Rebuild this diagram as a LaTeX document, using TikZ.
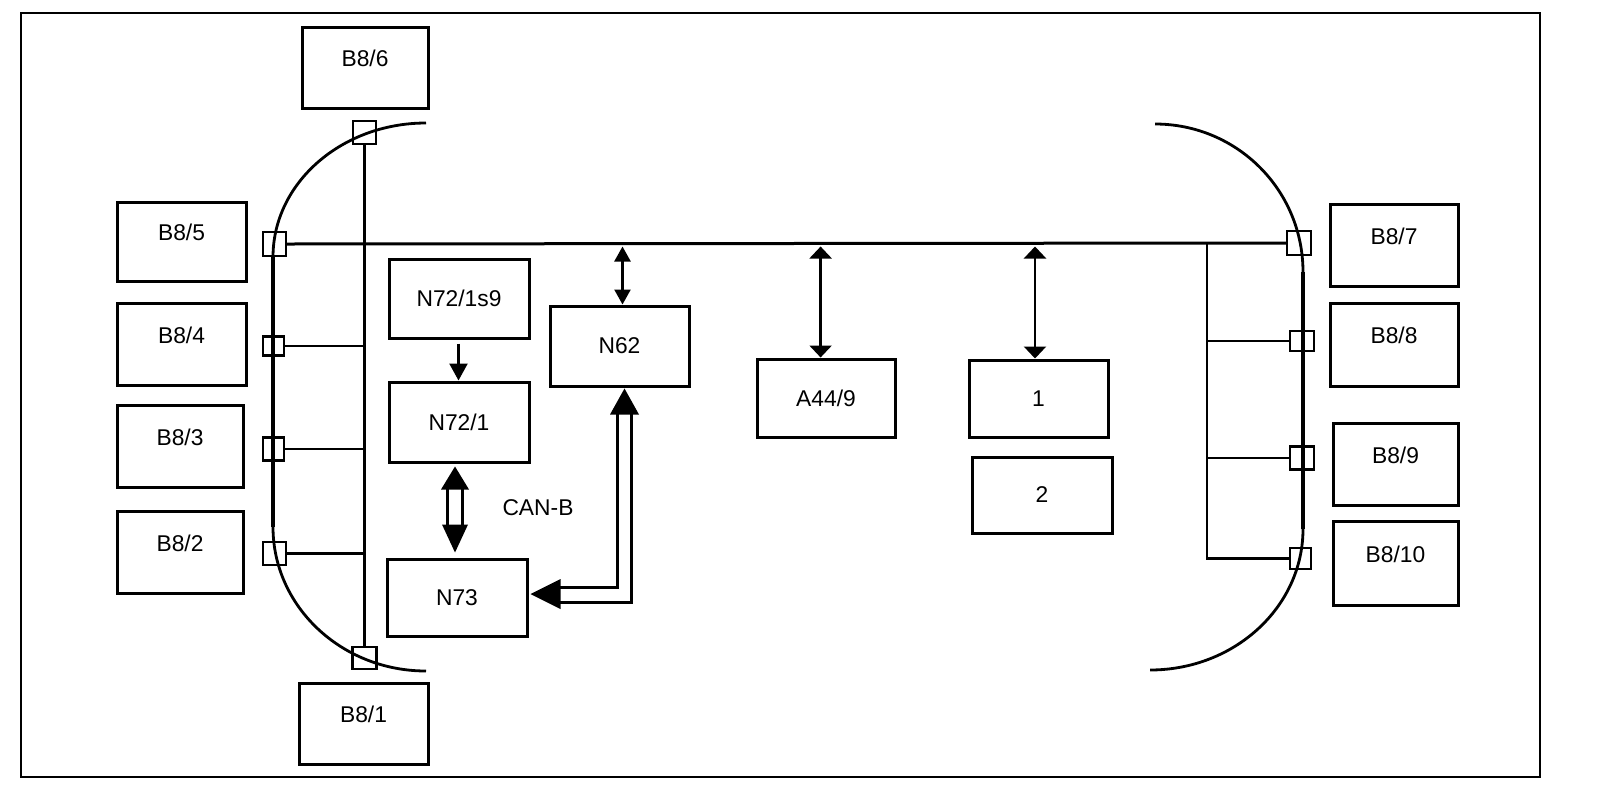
\documentclass[tikz,border=0pt]{standalone}
\usepackage{fontspec}
\setmainfont{Liberation Sans}
\usetikzlibrary{arrows.meta,calc}
\begin{document}
\begin{tikzpicture}[x=0.5pt,y=-0.5pt,
  txt/.style={font=\fontsize{11.4}{13}\selectfont},
  box/.style={draw, line width=1.5pt, inner sep=0pt, txt},
  lab/.style={txt, inner sep=0pt, yshift=4.5pt},
  sq/.style={draw, line width=1.1pt, inner sep=0pt},
  thinln/.style={line width=1.1pt},
  busln/.style={line width=1.5pt},
  outline/.style={line width=1.4pt},
  outlinev/.style={line width=1.7pt},
  bi/.style={line width=1.2pt, {Triangle[width=11pt,length=6pt]}-{Triangle[width=11pt,length=6pt]}},
  bin/.style={line width=1.2pt, {Triangle[width=8pt,length=7.5pt]}-{Triangle[width=8pt,length=7.5pt]}},
  dbl/.style={double, double distance=5.6pt, line width=1.5pt}
]
\useasboundingbox (0,0) rectangle (1600,788);
\draw[line width=1pt] (21,13) rectangle (1540,777);

% car outline
\draw[outline] (426,123) .. controls (341.5,123) and (273,183) .. (273,257);
\draw[outlinev] (273,257) -- (273,527);
\draw[outline] (273,527) .. controls (273,606.5) and (341.5,671) .. (426,671);
\draw[outline] (1155,124) .. controls (1237,124) and (1303,190) .. (1303,272);
\draw[outlinev] (1303,272) -- (1303,529);
\draw[outline] (1303,529) .. controls (1303,607) and (1234.5,670) .. (1150,670);

% sensor boxes
\node[box, minimum width=63pt, minimum height=40.5pt, label={[lab]center:B8/6}] (b86) at (365,67.5) {};
\node[box, minimum width=64.5pt, minimum height=39.5pt, label={[lab]center:B8/5}] (b85) at (181.5,241.5) {};
\node[box, minimum width=64.5pt, minimum height=41pt, label={[lab]center:B8/4}] (b84) at (181.5,344) {};
\node[box, minimum width=63pt, minimum height=41pt, label={[lab]center:B8/3}] (b83) at (180,446) {};
\node[box, minimum width=63pt, minimum height=41pt, label={[lab]center:B8/2}] (b82) at (180,552) {};
\node[box, minimum width=64.5pt, minimum height=40.5pt, label={[lab]center:B8/1}] (b81) at (363.5,723.5) {};
\node[box, minimum width=64pt, minimum height=41pt, label={[lab]center:B8/7}] (b87) at (1394,245) {};
\node[box, minimum width=64pt, minimum height=41.5pt, label={[lab]center:B8/8}] (b88) at (1394,344.5) {};
\node[box, minimum width=62.5pt, minimum height=41pt, label={[lab]center:B8/9}] (b89) at (1395.5,464) {};
\node[box, minimum width=62.5pt, minimum height=42pt, label={[lab]center:B8/10}] (b810) at (1395.5,563) {};

% control units
\node[box, minimum width=70pt, minimum height=39.5pt] (n721s9) at (459,298.5) {N72/1s9};
\node[box, minimum width=70pt, minimum height=40pt] (n721) at (459,422) {N72/1};
\node[box, minimum width=70pt, minimum height=38.5pt] (n73) at (457,597.5) {N73};
\node[box, minimum width=69.5pt, minimum height=40pt] (n62) at (619.5,346) {N62};
\node[box, minimum width=69pt, minimum height=39pt] (a449) at (826,398) {A44/9};
\node[box, minimum width=69.5pt, minimum height=38.5pt] (u1) at (1038.5,398.5) {1};
\node[box, minimum width=70pt, minimum height=38pt] (u2) at (1042,495) {2};
\node[txt] (canb) at (538,508) {CAN-B};

% connector squares
\node[sq, minimum width=11.5pt, minimum height=11.5pt] (s6) at (364.5,132.5) {};
\node[sq, minimum width=11.5pt, minimum height=12pt] (s5) at (274.5,244) {};
\node[sq, minimum width=10.5pt, minimum height=9.5pt] (s4) at (273.5,346) {};
\node[sq, minimum width=10.5pt, minimum height=11.5pt] (s3) at (273.5,449) {};
\node[sq, minimum width=11.5pt, minimum height=11.5pt] (s2) at (274.5,553.5) {};
\node[sq, minimum width=12pt, minimum height=11pt] (s1) at (364.5,658) {};
\node[sq, minimum width=12pt, minimum height=12pt] (s7) at (1299,243) {};
\node[sq, minimum width=12pt, minimum height=10pt] (s8) at (1302,341) {};
\node[sq, minimum width=12pt, minimum height=11.5pt] (s9) at (1302,458) {};
\node[sq, minimum width=10.5pt, minimum height=10.5pt] (s10) at (1300.5,558.5) {};

% bus and sensor wiring
\draw[busln] (s5.east) -- (s7.west);
\draw[thinln] (s6.south) -- (s1.north);
\draw[thinln] (s4.east) -- (s4.east -| s1.north);
\draw[thinln] (s3.east) -- (s3.east -| s1.north);
\draw[thinln] (s2.east) -- (s2.east -| s1.north);
\coordinate (rt) at (1207,243);
\draw[thinln] (rt) |- (s10.west);
\draw[thinln] (s8.west) -- (s8.west -| rt);
\draw[thinln] (s9.west) -- (s9.west -| rt);

% bus arrows
\draw[bin] ($(n62.north |- s5.east)+(3,2.5)$) -- ($(n62.north)+(3,0)$);
\draw[bi] ($(a449.north |- s5.east)+(-5.4,2.5)$) -- ($(a449.north)+(-5.4,0)$);
\draw[bi] ($(u1.north |- s5.east)+(-3.5,2.5)$) -- ($(u1.north)+(-3.5,0)$);

% N72/1s9 -> N72/1
\draw[line width=1.2pt, -{Triangle[width=9pt,length=8.5pt]}] ($(n721s9.south)+(-0.5,4)$) -- ($(n721.north)+(-0.5,0)$);

% CAN-B double arrow N72/1 <-> N73
\coordinate (cbT) at ($(n721.south)+(-4,3)$);
\coordinate (cbB) at ($(n73.north)+(-2,-5)$);
\draw[dbl] ($(cbT)+(0,21)$) -- ($(cbB)+(0,-26)$);
\fill (cbT) -- ++(-14,23) -- ++(28,0) -- cycle;
\fill (cbB) -- ++(-13,-28) -- ++(26,0) -- cycle;

% CAN-B double arrow N62 <-> N73
\coordinate (nnT) at ($(n62.south)+(5,1)$);
\coordinate (nnL) at ($(n73.east)+(2,-3.5)$);
\draw[dbl] ($(nnT)+(0,24)$) |- ($(nnL)+(28,1)$);
\fill (nnT) -- ++(-14.5,26) -- ++(29,0) -- cycle;
\fill (nnL) -- ++(30,-15) -- ++(0,30) -- cycle;
\end{tikzpicture}
\end{document}
